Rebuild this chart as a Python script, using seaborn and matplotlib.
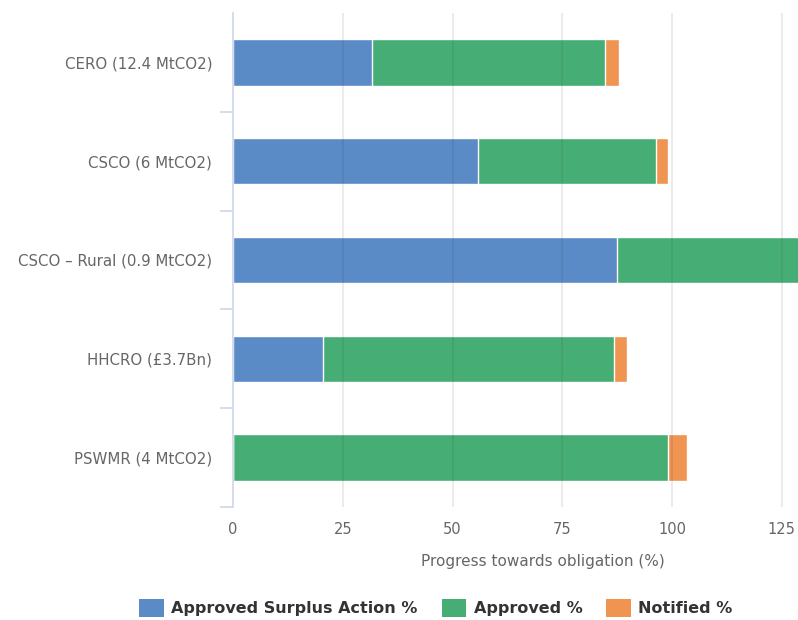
import matplotlib
matplotlib.use("Agg")
import matplotlib.pyplot as plt
from matplotlib.patches import Patch
from matplotlib.ticker import FixedLocator, MultipleLocator
import numpy as np
import pandas as pd
import seaborn as sns

# Scheme names and progress components (% of obligation)
schemes = [
    "CERO (12.4 MtCO2)",
    "CSCO (6 MtCO2)",
    "CSCO – Rural (0.9 MtCO2)",
    "HHCRO (£3.7Bn)",
    "PSWMR (4 MtCO2)",
]
surplus_action = [31.7, 55.9, 87.4, 20.4, 0.0]
approved = [53.0, 40.4, 50.0, 66.4, 99.2]
notified = [3.3, 2.9, 2.5, 2.9, 4.2]

series_names = ["Approved Surplus Action %", "Approved %", "Notified %"]
series_colors = ["#5b8bc6", "#46ae74", "#f09452"]

df = pd.DataFrame({
    "scheme": schemes,
    "surplus": surplus_action,
    "approved": approved,
    "notified": notified,
})
df["cum_surplus"] = df["surplus"]
df["cum_approved"] = df["surplus"] + df["approved"]
df["cum_notified"] = df["cum_approved"] + df["notified"]

sns.set_theme(style="white")
plt.rcParams["font.family"] = ["DejaVu Sans"]

fig = plt.figure(figsize=(7.98, 6.2), dpi=100)
# plot area runs past the right edge of the canvas
ax = fig.add_axes([233 / 798, 1 - 507 / 620, (852 - 233) / 798, (507 - 13) / 620])

# stacked bars: draw cumulative totals from the outermost segment inwards
for col, color in zip(["cum_notified", "cum_approved", "cum_surplus"],
                      series_colors[::-1]):
    sns.barplot(data=df, x=col, y="scheme", orient="h", color=color,
                saturation=1, width=0.47, edgecolor="white", linewidth=1.0,
                ax=ax, zorder=2)

ax.set_xlim(0, 141)
ax.set_ylim(4.5, -0.5)
ax.xaxis.set_major_locator(MultipleLocator(25))

# vertical grid lines over the bars, faintly visible through them
ax.grid(False)
for xv in np.arange(25, 141, 25):
    ax.axvline(xv, color=(0.2, 0.2, 0.2, 0.12), linewidth=1.1, zorder=3)

for side in ["top", "right", "bottom"]:
    ax.spines[side].set_visible(False)
ax.spines["left"].set_color("#ccd6eb")
ax.spines["left"].set_linewidth(1.2)
ax.spines["left"].set_zorder(4)

ax.tick_params(axis="x", length=0, pad=11, labelsize=10.5, labelcolor="#666666")
ax.tick_params(axis="y", which="major", left=False, length=0, pad=15,
               labelsize=10.8, labelcolor="#666666")
ax.yaxis.set_minor_locator(FixedLocator([0.5, 1.5, 2.5, 3.5, 4.5]))
ax.tick_params(axis="y", which="minor", left=True, length=9.5, width=1.2,
               color="#ccd6eb")

ax.set_ylabel("")
ax.set_xlabel("Progress towards obligation (%)", fontsize=11, color="#666666",
              labelpad=12)

handles = [Patch(facecolor=c, edgecolor="none", alpha=1) for c in series_colors]
leg = fig.legend(handles, series_names, loc="center",
                 bbox_to_anchor=(436 / 798, 1 - 608 / 620),
                 ncol=3, frameon=False, handlelength=1.55, handleheight=1.3,
                 handletextpad=0.45, columnspacing=1.5,
                 prop={"weight": "bold", "size": 11.5})
for t in leg.get_texts():
    t.set_color("#333333")

fig.savefig("out.png", dpi=100)
